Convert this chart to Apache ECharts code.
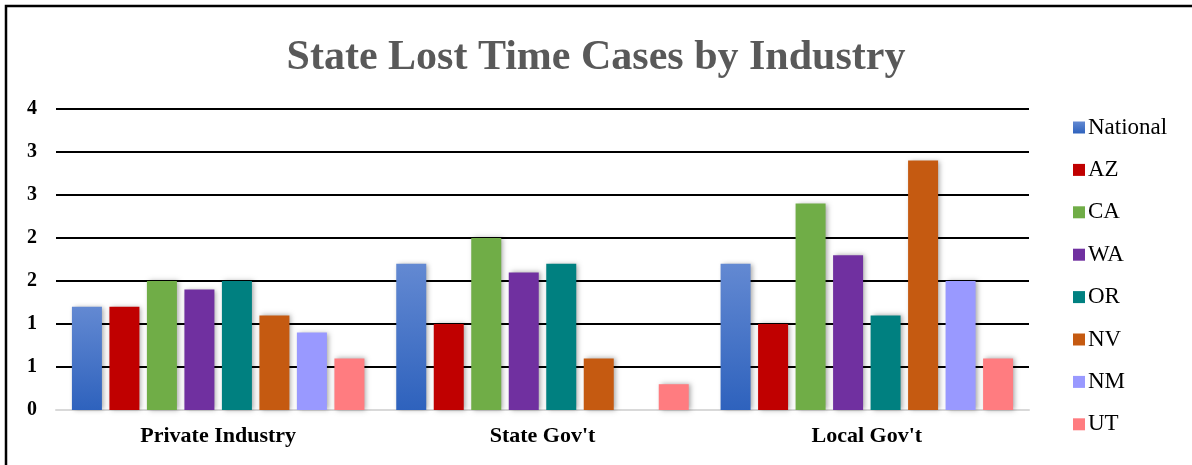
<!DOCTYPE html>
<html>
<head>
<meta charset="utf-8">
<script src="https://cdn.jsdelivr.net/npm/echarts@6/dist/echarts.min.js"></script>
<style>
  html, body { margin: 0; padding: 0; background: #fff; }
  #chart { width: 1192px; height: 465px; }
</style>
</head>
<body>
<div id="chart"></div>
<script>
var categories = ['Private Industry', "State Gov't", "Local Gov't"];
var seriesNames = ['National', 'AZ', 'CA', 'WA', 'OR', 'NV', 'NM', 'UT'];
var national = [1.2, 1.7, 1.7];
var az = [1.2, 1.0, 1.0];
var ca = [1.5, 2.0, 2.4];
var wa = [1.4, 1.6, 1.8];
var orState = [1.5, 1.7, 1.1];
var nv = [1.1, 0.6, 2.9];
var nm = [0.9, 0, 1.5];
var ut = [0.6, 0.3, 0.6];

var values = [national, az, ca, wa, orState, nv, nm, ut];
var colors = ['#4472C4', '#C00000', '#70AD47', '#7030A0', '#008080', '#C55A11', '#9999FF', '#FF7C80'];

var myChart = echarts.init(document.getElementById('chart'));

var series = [];
for (var i = 0; i < seriesNames.length; i++) {
    var fill = colors[i];
    if (i === 0) {
        // the national bars fade from light to dark blue
        fill = new echarts.graphic.LinearGradient(0, 0, 0, 1, [
            { offset: 0, color: '#6389D2' },
            { offset: 1, color: '#2E62BD' }
        ]);
    }
    series.push({
        name: seriesNames[i],
        type: 'bar',
        data: values[i],
        barWidth: 30,
        barGap: '25%',
        itemStyle: {
            color: fill,
            shadowColor: 'rgba(0,0,0,0.35)',
            shadowBlur: 5,
            shadowOffsetX: 2,
            shadowOffsetY: 0
        }
    });
}

var option = {
    backgroundColor: '#fff',
    animation: false,
    color: colors,
    title: {
        text: 'State Lost Time Cases by Industry',
        left: 'center',
        top: 32,
        textStyle: {
            fontFamily: 'Liberation Serif',
            fontWeight: 'bold',
            fontSize: 42,
            color: '#595959'
        }
    },
    legend: {
        orient: 'vertical',
        left: 1068,
        top: 111,
        itemWidth: 12,
        itemHeight: 12,
        itemGap: 19.4,
        icon: 'rect',
        data: seriesNames,
        textStyle: {
            fontFamily: 'Liberation Serif',
            fontSize: 23,
            lineHeight: 23,
            color: '#000',
            padding: [0, 0, 0, -2]
        }
    },
    grid: {
        left: 56,
        right: 163,
        top: 109,
        bottom: 55
    },
    xAxis: {
        type: 'category',
        data: categories,
        axisTick: { show: false },
        axisLine: { lineStyle: { color: '#D9D9D9', width: 2 } },
        axisLabel: {
            margin: 15,
            fontFamily: 'Liberation Serif',
            fontWeight: 'bold',
            fontSize: 22,
            color: '#000'
        }
    },
    yAxis: {
        type: 'value',
        min: 0,
        max: 3.5,
        interval: 0.5,
        axisLine: { show: false },
        axisTick: { show: false },
        splitLine: {
            lineStyle: {
                color: ['#D9D9D9', '#000', '#000', '#000', '#000', '#000', '#000', '#000'],
                width: 2
            }
        },
        axisLabel: {
            margin: 19,
            fontFamily: 'Liberation Serif',
            fontWeight: 'bold',
            fontSize: 20,
            color: '#000',
            formatter: function (v) {
                return String(Math.round(v));
            }
        }
    },
    graphic: [{
        type: 'rect',
        silent: true,
        shape: { x: 6, y: 6, width: 1400, height: 700 },
        style: { fill: 'none', stroke: '#000', lineWidth: 2.5 }
    }],
    series: series
};

myChart.setOption(option);
</script>
</body>
</html>
